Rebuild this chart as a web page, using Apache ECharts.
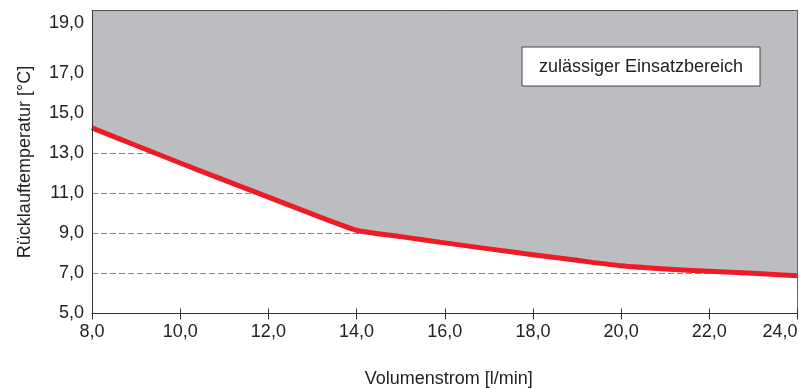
<!DOCTYPE html>
<html>
<head>
<meta charset="utf-8">
<script src="https://cdn.jsdelivr.net/npm/echarts@6/dist/echarts.min.js"></script>
<style>
  html, body { margin: 0; padding: 0; background: #fff; }
  #chart { width: 799px; height: 389px; }
</style>
</head>
<body>
<div id="chart"></div>
<script>
// Volume flow (l/min) and the limiting return temperature (°C)
const flow = [8, 9, 10, 11, 12, 13, 14, 15, 16, 17, 18, 19, 20, 21, 22, 23, 24];
const returnTemp = [14.25, 13.37, 12.5, 11.65, 10.8, 9.95, 9.15, 8.83, 8.52, 8.22, 7.93, 7.65, 7.38, 7.22, 7.1, 7.0, 6.88];

const xTicks = [8, 10, 12, 14, 16, 18, 20, 22, 24];
const yTicks = [5, 7, 9, 11, 13, 15, 17, 19];

const xName = 'Volumenstrom [l/min]';
const yName = 'Rücklauftemperatur [°C]';
const areaLabel = 'zulässiger Einsatzbereich';

const FONT = '"Liberation Sans", Arial, Helvetica, sans-serif';
const TEXT = '#222';
const AXIS = '#333';

const fmt = v => v.toFixed(1).replace('.', ',');

const chart = echarts.init(document.getElementById('chart'), null, { renderer: 'canvas' });

const grid = { left: 92, right: 1.5, top: 10.5, bottom: 75.5, containLabel: false, outerBoundsMode: 'none' };
const xRange = { min: xTicks[0], max: xTicks[xTicks.length - 1], interval: 2 };
const yRange = { min: 5, max: 20.1, interval: 2 };

chart.setOption({
  animation: false,
  grid: grid,
  xAxis: [
    {
      type: 'value', position: 'bottom', ...xRange, z: 10,
      name: xName, nameLocation: 'middle', nameGap: 57,
      nameTextStyle: { fontFamily: FONT, fontSize: 18, color: TEXT, padding: [0, 0, 0, 8] },
      axisLine: { show: true, lineStyle: { color: AXIS, width: 1 } },
      axisTick: { show: true, inside: false, length: 6, lineStyle: { color: AXIS } },
      axisLabel: {
        fontFamily: FONT, fontSize: 18, color: TEXT, margin: 10,
        alignMaxLabel: 'right',
        formatter: v => xTicks.includes(v) ? fmt(v) : ''
      },
      splitLine: { show: false }
    },
    {
      // upward half of the crossing tick marks
      type: 'value', position: 'bottom', ...xRange, z: 10,
      axisLine: { show: false },
      axisTick: { show: true, inside: true, length: 5, lineStyle: { color: AXIS } },
      axisLabel: { show: false },
      splitLine: { show: false }
    },
    {
      // frame line along the top
      type: 'value', position: 'top', ...xRange, z: 10,
      axisLine: { show: true, lineStyle: { color: '#555', width: 1 } },
      axisTick: { show: false }, axisLabel: { show: false }, splitLine: { show: false }
    }
  ],
  yAxis: [
    {
      type: 'value', position: 'left', ...yRange,
      name: yName, nameLocation: 'middle', nameGap: 58,
      nameTextStyle: { fontFamily: FONT, fontSize: 18, color: TEXT },
      axisLine: { show: false },
      axisTick: { show: false },
      axisLabel: {
        fontFamily: FONT, fontSize: 18, color: TEXT, margin: 8,
        formatter: v => {
          if (!yTicks.includes(v)) return '';
          return v === 19 ? '{up|' + fmt(v) + '}' : fmt(v);
        },
        rich: { up: { fontFamily: FONT, fontSize: 18, color: TEXT, padding: [0, 0, 20, 0] } }
      },
      splitLine: { show: true, lineStyle: { color: '#8a8a8a', type: [6, 3], width: 1 } }
    },
    {
      // left frame line, kept above the shaded region
      type: 'value', position: 'left', ...yRange, z: 10,
      axisLine: { show: true, lineStyle: { color: AXIS, width: 1 } },
      axisTick: { show: false }, axisLabel: { show: false }, splitLine: { show: false }
    },
    {
      // right frame line
      type: 'value', position: 'right', ...yRange, z: 10,
      axisLine: { show: true, lineStyle: { color: '#666', width: 1 } },
      axisTick: { show: false }, axisLabel: { show: false }, splitLine: { show: false }
    }
  ],
  series: [
    {
      type: 'line',
      xAxisIndex: 0, yAxisIndex: 0,
      data: flow.map((x, i) => [x, returnTemp[i]]),
      smooth: 0.2,
      symbol: 'none',
      lineStyle: { color: '#ed1c24', width: 5, join: 'round', cap: 'butt' },
      areaStyle: { color: '#bcbdc1', opacity: 1, origin: 'end' },
      z: 2
    }
  ],
  graphic: [
    {
      type: 'rect',
      x: 522, y: 47,
      z: 20,
      shape: { x: 0, y: 0, width: 238, height: 39 },
      style: { fill: '#fff', stroke: '#444', lineWidth: 1 }
    },
    {
      type: 'text',
      x: 641, y: 67,
      z: 21,
      style: {
        text: areaLabel, fontFamily: FONT, fontSize: 18, fill: TEXT,
        align: 'center', verticalAlign: 'middle'
      }
    }
  ]
});
</script>
</body>
</html>
